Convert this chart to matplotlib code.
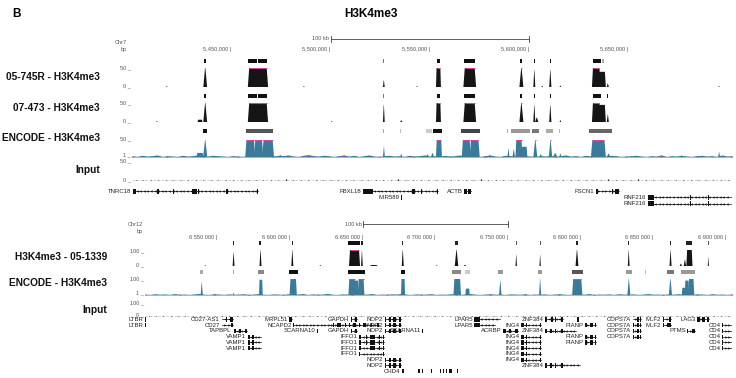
import numpy as np
import matplotlib.pyplot as plt
from matplotlib.patches import Rectangle

plt.rcParams['font.family'] = ['Liberation Sans', 'DejaVu Sans']

W, H = 736, 378

# ---------------- data: Chr7 panel ----------------
chr7_range = (5400000, 5702000)
chr7_ticks = [5450000, 5500000, 5550000, 5600000, 5650000]
chr7_tick_labels = ['5,450,000', '5,500,000', '5,550,000', '5,600,000', '5,650,000']
chr7_scalebar = (5500000, 5600000)

# peaks are (start, end, height); height above the track max = clipped
sig_745R = [(5435900, 5437800, 50), (5458300, 5468500, 60),
            (5526300, 5527200, 18), (5553000, 5555500, 60), (5566800, 5573200, 60),
            (5595000, 5597000, 60), (5602000, 5603000, 45), (5610000, 5611100, 45),
            (5615200, 5616000, 4), (5631500, 5635800, 60), (5634500, 5638500, 40),
            (5639000, 5640000, 10), (5417000, 5418000, 2), (5486000, 5487000, 2),
            (5543000, 5544000, 2), (5606000, 5607000, 3), (5695000, 5696000, 2)]
sig_473 = [(5433000, 5435500, 6), (5435900, 5437800, 50), (5458300, 5468500, 60),
           (5526300, 5527200, 45), (5535000, 5536000, 5),
           (5553000, 5555500, 60), (5566800, 5573200, 60), (5595000, 5597000, 60),
           (5602000, 5603000, 45), (5603000, 5604500, 12), (5610000, 5611100, 45),
           (5615200, 5616000, 5), (5631500, 5635800, 60), (5634500, 5638500, 45),
           (5639000, 5640000, 20), (5412000, 5413000, 2), (5500000, 5501000, 2)]
sig_enc7 = [(5432500, 5436000, 12), (5435800, 5437900, 55), (5457000, 5462000, 55),
            (5461500, 5466000, 55), (5465500, 5471500, 55), (5474000, 5475500, 6),
            (5526300, 5527300, 30), (5535000, 5536000, 10), (5548000, 5549500, 8),
            (5550500, 5552000, 12), (5553000, 5556000, 55), (5566000, 5570500, 55),
            (5570000, 5575000, 55), (5579500, 5580500, 6), (5589000, 5590000, 25),
            (5591500, 5592800, 22), (5593000, 5596500, 55), (5596000, 5599000, 30),
            (5602000, 5604000, 55), (5605000, 5606500, 8), (5609800, 5611500, 55),
            (5612000, 5614000, 12), (5615000, 5616200, 10), (5631000, 5638500, 55),
            (5639000, 5640800, 10), (5676000, 5677000, 5), (5695000, 5696000, 15)]
enc7_background = [4, 2, 5, 3, 4, 6, 2, 4, 3, 2, 5, 3, 4, 6, 2, 3, 5, 4, 3, 2,
                   4, 3, 2, 5, 6, 3, 2, 4, 3, 5, 4, 6, 3, 2, 5, 7, 4, 3, 5, 4,
                   2, 4, 6, 3, 5, 2, 4, 6, 3, 2, 4, 5, 3, 4, 2, 5, 3, 4, 6, 3,
                   4, 2, 5, 3, 4, 6, 3, 5, 4, 2, 4, 6, 3, 2, 5, 4, 3, 6, 4, 3,
                   2, 4, 3, 5, 2, 4, 6, 3, 4, 2, 5, 3, 4, 2, 3, 5, 4, 2, 3, 4,
                   5, 3, 2, 4, 3, 6, 2, 4, 3, 5, 3, 2, 4, 5, 3, 4, 2, 6, 3, 4]
input7 = [3, 2, 2, 3, 4, 2, 3, 2, 3, 3, 2, 4, 3, 2, 3, 2, 2, 3, 4, 3,
          5, 3, 2, 3, 3, 4, 2, 3, 2, 4, 3, 3, 2, 4, 3, 5, 3, 2, 3, 3,
          2, 4, 3, 3, 2, 3, 5, 3, 4, 3, 2, 3, 3, 4, 3, 2, 3, 4, 3, 3,
          2, 3, 4, 5, 3, 4, 3, 5, 3, 2, 4, 3, 3, 4, 3, 3, 2, 3, 3, 2]
calls_745R = [(5436300, 5437400, '#111'), (5458600, 5462700, '#111'), (5463300, 5467800, '#111'),
              (5526500, 5527000, '#777'), (5553300, 5555200, '#111'), (5567300, 5572500, '#111'),
              (5595400, 5596500, '#111'), (5602200, 5602900, '#111'), (5610200, 5610900, '#111'),
              (5631800, 5636200, '#111'), (5636400, 5637600, '#aaa')]
calls_473 = [(5436300, 5437400, '#111'), (5458600, 5462700, '#111'), (5463300, 5467800, '#111'),
             (5526500, 5527000, '#777'), (5553300, 5555200, '#111'), (5567300, 5572500, '#111'),
             (5595400, 5596500, '#111'), (5602200, 5602900, '#111'), (5610200, 5610900, '#111'),
             (5631800, 5636200, '#111'), (5639100, 5639800, '#111')]
calls_enc7 = [(5435800, 5437900, '#111'), (5457300, 5470800, '#555'), (5526500, 5527000, '#aaa'),
              (5535100, 5535600, '#bbb'), (5548000, 5551000, '#ccc'), (5551500, 5556000, '#111'),
              (5565500, 5575000, '#444'), (5588500, 5589300, '#aaa'), (5591000, 5600500, '#999'),
              (5601500, 5605000, '#777'), (5608500, 5612000, '#aaa'), (5614800, 5615400, '#bbb'),
              (5630000, 5641500, '#666')]
genes7 = [('TNRC18', 0, 5400500, 5463600, -1,
           [(5400500, 5402200), (5412800, 5413600), (5420500, 5421200), (5430000, 5432600),
            (5433200, 5433800), (5447500, 5448300), (5463000, 5463600)]),
          ('FBXL18', 0, 5516500, 5554000, -1,
           [(5516500, 5521500), (5541000, 5542500), (5545500, 5546200), (5553400, 5554000)]),
          ('MIR589', 1, 5535500, 5536000, -1, [(5535500, 5536000)]),
          ('ACTB', 0, 5567200, 5570700, -1, [(5567200, 5568600), (5569300, 5570700)]),
          ('FSCN1', 0, 5633300, 5645000, 1, [(5633300, 5634600), (5641500, 5642300), (5643200, 5645000)]),
          ('RNF216', 1, 5659600, 5702000, -1, [(5659600, 5662800), (5681000, 5681500), (5690000, 5690400)]),
          ('RNF216', 2, 5659600, 5702000, -1, [(5659600, 5662800), (5681000, 5681500), (5690000, 5690400)])]

# ---------------- data: Chr12 panel ----------------
chr12_range = (6500000, 6904000)
chr12_ticks = [6550000, 6600000, 6650000, 6700000, 6750000, 6800000, 6850000, 6900000]
chr12_tick_labels = ['6 550 000', '6 600 000', '6 650 000', '6 700 000',
                     '6 750 000', '6 800 000', '6 850 000', '6 900 000']
chr12_scalebar = (6650000, 6750000)

sig_1339 = [(6560300, 6561600, 85), (6578800, 6580200, 100), (6600700, 6602100, 100),
            (6640400, 6648000, 130), (6648700, 6649900, 95), (6676700, 6678100, 100),
            (6713200, 6715600, 100), (6755000, 6756000, 70), (6771500, 6772400, 70),
            (6796300, 6798300, 100), (6832300, 6833500, 100), (6861000, 6862400, 100),
            (6870800, 6872400, 40), (6872600, 6876800, 100), (6887300, 6888100, 55),
            (6541000, 6542000, 5), (6620000, 6621500, 5), (6655000, 6660000, 6),
            (6719500, 6721000, 8), (6868000, 6869500, 15), (6700000, 6701500, 4)]
sig_enc12 = [(6538300, 6539800, 80), (6560500, 6561500, 15), (6578500, 6581000, 95),
             (6599500, 6604500, 100), (6640000, 6645000, 110), (6644000, 6647000, 90),
             (6646500, 6651000, 110), (6676200, 6679000, 100), (6712300, 6717500, 100),
             (6720500, 6723500, 40), (6743700, 6745400, 90), (6771200, 6772700, 100),
             (6794000, 6801000, 110), (6832000, 6834000, 100), (6860500, 6862700, 100),
             (6869500, 6872000, 45), (6871500, 6874500, 90), (6874000, 6878000, 100)]
enc12_background = [6, 4, 8, 5, 7, 4, 9, 5, 6, 4, 7, 10, 5, 4, 8, 6, 4, 7, 5, 6,
                    8, 4, 6, 9, 5, 4, 7, 6, 4, 8, 5, 6, 9, 4, 7, 5, 6, 10, 5, 4,
                    7, 6, 4, 8, 5, 6, 9, 4, 6, 5, 7, 6, 10, 5, 4, 7, 5, 6, 8, 4,
                    6, 5, 8, 6, 4, 7, 9, 5, 4, 6, 8, 5, 6, 4, 7, 6, 5, 8, 4, 6,
                    5, 7, 4, 6, 8, 5, 4, 7, 6, 5, 9, 4, 6, 5, 7, 4, 8, 6, 5, 7,
                    4, 6, 9, 5, 6, 4, 7, 5, 8, 6, 4, 5, 7, 6, 4, 8, 5, 6, 4, 7]
input12 = [6, 4, 5, 6, 4, 5, 7, 4, 5, 6, 5, 4, 6, 5, 4, 6, 7, 5, 4, 6,
           5, 4, 6, 5, 7, 4, 5, 6, 4, 5, 6, 5, 4, 6, 5, 4, 7, 5, 6, 4,
           5, 6, 4, 5, 7, 5, 4, 6, 5, 4, 6, 5, 4, 5, 6, 4, 5, 7, 5, 4,
           6, 5, 4, 6, 5, 7, 4, 5, 6, 4, 5, 6, 5, 4, 6, 5, 4, 6, 5, 4]
calls_1339 = [(6560500, 6561300, '#222'), (6578800, 6580100, '#222'), (6600900, 6601900, '#222'),
              (6640000, 6648300, '#111'), (6648800, 6649800, '#222'), (6676900, 6677900, '#222'),
              (6713600, 6715200, '#222'), (6755100, 6755800, '#555'), (6771600, 6772300, '#555'),
              (6796400, 6798200, '#222'), (6832400, 6833400, '#222'), (6861100, 6862300, '#222'),
              (6872400, 6876600, '#222'), (6887400, 6888000, '#555')]
calls_enc12 = [(6538000, 6540000, '#aaa'), (6560700, 6561200, '#aaa'), (6577500, 6582000, '#888'),
               (6599300, 6605500, '#111'), (6639700, 6651400, '#111'), (6676000, 6679000, '#111'),
               (6711000, 6717800, '#888'), (6720000, 6724000, '#ccc'), (6743200, 6746600, '#999'),
               (6770600, 6773500, '#999'), (6793900, 6801400, '#555'), (6830900, 6835000, '#999'),
               (6844300, 6844800, '#bbb'), (6859000, 6864400, '#777'), (6869200, 6878800, '#999')]
genes12 = [('LTBR', 0, 6500000, 6500600, 1, [(6500000, 6500600)]),
           ('LTBR', 1, 6500000, 6500600, 1, [(6500000, 6500600)]),
           ('CD27-AS1', 0, 6552800, 6560300, -1, [(6552800, 6553200), (6556000, 6556400), (6558500, 6560300)]),
           ('CD27', 1, 6552800, 6560300, 1, [(6552800, 6553300), (6559000, 6560300)]),
           ('TAPBPL', 2, 6561000, 6569900, -1, [(6561000, 6562600), (6565000, 6566000), (6568500, 6569900)]),
           ('VAMP1', 3, 6570600, 6580100, -1, [(6570600, 6572600), (6573500, 6575000), (6579700, 6580100)]),
           ('VAMP1', 4, 6570600, 6580100, -1, [(6570600, 6572600), (6573500, 6575000), (6579700, 6580100)]),
           ('VAMP1', 5, 6570600, 6580100, -1, [(6570600, 6572600), (6573500, 6575000), (6579700, 6580100)]),
           ('MRPL51', 0, 6599300, 6601400, -1, [(6599300, 6601400)]),
           ('NCAPD2', 1, 6602100, 6661000, 1,
            [(6602100, 6602600), (6629300, 6630000), (6632000, 6635000), (6637500, 6638200),
             (6640500, 6641200), (6643000, 6645500), (6647500, 6648300), (6650200, 6652000),
             (6655500, 6656200), (6659500, 6661000)]),
           ('SCARNA10', 2, 6618200, 6618800, 1, [(6618200, 6618800)]),
           ('GAPDH', 0, 6641800, 6645900, 1, [(6641800, 6642500), (6643500, 6644000), (6644800, 6645900)]),
           ('GAPDH', 2, 6641800, 6645900, 1, [(6641800, 6642500), (6643500, 6644000), (6644800, 6645900)]),
           ('IFFO1', 3, 6647300, 6664400, -1,
            [(6647300, 6648500), (6652000, 6652600), (6655000, 6658000), (6661000, 6661600), (6664000, 6664400)]),
           ('IFFO1', 4, 6647300, 6664400, -1,
            [(6647300, 6648500), (6652000, 6652600), (6655000, 6658000), (6661000, 6661600), (6664000, 6664400)]),
           ('IFFO1', 5, 6647300, 6664400, -1,
            [(6647300, 6648500), (6655000, 6658000), (6661000, 6661600), (6664000, 6664400)]),
           ('IFFO1', 6, 6647300, 6664400, -1, [(6647300, 6648000), (6663800, 6664400)]),
           ('NOP2', 0, 6665100, 6676000, -1,
            [(6665100, 6666000), (6668000, 6669500), (6671000, 6672500), (6674500, 6676000)]),
           ('NOP2', 1, 6665100, 6676000, -1,
            [(6665100, 6666000), (6668000, 6669500), (6671000, 6672500), (6674500, 6676000)]),
           ('NOP2', 2, 6665100, 6676000, -1,
            [(6665100, 6666000), (6668000, 6669500), (6671000, 6672500), (6674500, 6676000)]),
           ('NOP2', 7, 6665100, 6676000, -1,
            [(6665100, 6666000), (6668000, 6669500), (6671000, 6672500), (6674500, 6676000)]),
           ('NOP2', 8, 6665100, 6676000, -1,
            [(6665100, 6666000), (6668000, 6669500), (6671000, 6672500), (6674500, 6676000)]),
           ('SCARNA11', 2, 6690800, 6691400, -1, [(6690800, 6691400)]),
           ('CHD4', 9, 6676700, 6678000, -1,
            [(6676700, 6678000), (6681500, 6682000), (6688000, 6689000), (6690500, 6691500),
             (6697000, 6697800), (6703000, 6704000), (6705000, 6706000), (6707000, 6708000),
             (6709000, 6711000), (6714800, 6715300)]),
           ('LPAR5', 0, 6726700, 6744600, -1, [(6726700, 6730800), (6744200, 6744600)]),
           ('LPAR5', 1, 6726700, 6741100, -1, [(6726700, 6730800)]),
           ('ACRBP', 2, 6746600, 6756900, -1, [(6746600, 6748500), (6750500, 6752000), (6754500, 6756900)]),
           ('ZNF384', 0, 6775400, 6787700, -1,
            [(6775400, 6777000), (6779500, 6780500), (6782500, 6783000), (6786500, 6787700)]),
           ('ING4', 1, 6758900, 6772600, -1, [(6758900, 6760800), (6762000, 6763000), (6772200, 6772600)]),
           ('ZNF384', 2, 6775400, 6796600, -1,
            [(6775400, 6777000), (6779000, 6780000), (6782500, 6783000), (6786500, 6787700)]),
           ('ING4', 3, 6758900, 6772600, -1, [(6758900, 6760800), (6762000, 6763000), (6772200, 6772600)]),
           ('ING4', 4, 6758900, 6772600, -1, [(6758900, 6760800), (6762000, 6763000), (6772200, 6772600)]),
           ('ING4', 5, 6758900, 6772600, -1, [(6758900, 6760800), (6762000, 6763000), (6772200, 6772600)]),
           ('ING4', 6, 6758900, 6772600, -1, [(6758900, 6760800), (6762000, 6763000), (6772200, 6772600)]),
           ('ING4', 7, 6758900, 6772600, -1, [(6758900, 6760800), (6762000, 6763000), (6772200, 6772600)]),
           ('ZNF384', 8, 6775400, 6799300, -1,
            [(6775400, 6777000), (6779000, 6780000), (6782500, 6783000), (6786500, 6787700)]),
           ('', 0, 6797500, 6798600, 1, [(6797500, 6797800), (6798300, 6798600)]),
           ('PIANP', 1, 6802800, 6810300, 1, [(6802800, 6804500), (6806000, 6808000), (6809500, 6810300)]),
           ('PIANP', 3, 6802800, 6810300, 1, [(6802800, 6804500), (6806000, 6808000), (6809500, 6810300)]),
           ('PIANP', 4, 6802800, 6810300, 1, [(6802800, 6804500), (6806000, 6808000), (6809500, 6810300)]),
           ('COPS7A', 0, 6835600, 6841100, 1, [(6835600, 6836200), (6838500, 6840000), (6840600, 6841100)]),
           ('COPS7A', 1, 6835600, 6841100, 1, [(6835600, 6836500), (6838500, 6840000), (6840600, 6841100)]),
           ('COPS7A', 2, 6835600, 6841100, 1, [(6835600, 6836500), (6838500, 6840000), (6840600, 6841100)]),
           ('COPS7A', 3, 6835600, 6841100, 1, [(6835600, 6836500), (6838500, 6840000), (6840600, 6841100)]),
           ('MLF2', 0, 6856200, 6861700, -1, [(6856200, 6857000), (6860500, 6861700)]),
           ('MLF2', 1, 6856200, 6861700, -1, [(6856200, 6857500), (6859500, 6861700)]),
           ('LAG3', 0, 6880200, 6888400, 1, [(6880200, 6882000), (6883500, 6885500), (6887000, 6888400)]),
           ('PTMS', 2, 6873300, 6878800, 1, [(6873300, 6874000), (6876500, 6878800)]),
           ('CD4', 1, 6897300, 6904000, 1, [(6897300, 6897700)]),
           ('CD4', 2, 6897300, 6904000, 1, [(6897300, 6897700)]),
           ('CD4', 3, 6897300, 6904000, 1, [(6897300, 6897700)]),
           ('CD4', 4, 6897300, 6904000, 1, [(6897300, 6897700)]),
           ('CD4', 5, 6897300, 6904000, 1, [(6897300, 6897700)])]

SIG = '#151515'
ENC = '#3b7a99'
CAP = '#d4489e'
GRAY = '#555555'

fig = plt.figure(figsize=(7.36, 3.78), dpi=100)


def box(x0, y0, x1, y1, xr, yr=(0, 1)):
    # axes placed by pixel box (top-left origin)
    ax = fig.add_axes([x0 / W, 1 - y1 / H, (x1 - x0) / W, (y1 - y0) / H])
    ax.set_xlim(*xr)
    ax.set_ylim(*yr)
    ax.axis('off')
    return ax


def ftext(x, y, s, **kw):
    fig.text(x / W, 1 - y / H, s, **kw)


def ramp(s, e):
    w = e - s
    # narrow peaks are spikes, broad ones are steep-sided blocks
    return 0.45 * w if w < 2500 else min(0.12 * w, 700)


def draw_signal(ax, peaks, color, ymax):
    for s, e, h in peaks:
        r = ramp(s, e)
        top = min(h, ymax)
        ax.fill([s, s + r, e - r, e], [0, top, top, 0], color=color, lw=0)
    for s, e, h in peaks:
        if h > ymax:
            r = ramp(s, e)
            ax.plot([s + r, e - r], [ymax * 0.99, ymax * 0.99], color=CAP, lw=0.8,
                    solid_capstyle='butt')


def draw_background(ax, values, xr, color):
    edges = np.linspace(xr[0], xr[1], len(values))
    ax.fill_between(edges, values, color=color, lw=0)
    ax.plot(edges[::7], np.array(values[::7]) * 0.3, ls='none', marker='.', ms=1.2,
            color=CAP, alpha=0.6)


def draw_noise(ax, values, xr):
    edges = np.linspace(xr[0], xr[1], len(values) + 1)
    mids = (edges[:-1] + edges[1:]) / 2
    ax.vlines(mids, 0, values, color='#222', lw=0.9)
    ax.axhline(0, color='#222', lw=1.0, ls=(0, (2, 1)))


def draw_calls(ax, calls):
    for s, e, c in calls:
        ax.add_patch(Rectangle((s, 0), e - s, 1, color=c, lw=0))


def draw_gene(ax, name, row, s, e, strand, exons, xr):
    span = xr[1] - xr[0]
    if e - s > 0.004 * span:
        ax.plot([s, e], [row, row], color='#111', lw=0.5)
        step = span * 0.006
        xs = np.arange(s + step, e - step * 0.5, step)
        ax.plot(xs, [row] * len(xs), ls='none', marker='<' if strand < 0 else '>',
                ms=1.7, mew=0, color='#111')
    for a, b in exons:
        ax.add_patch(Rectangle((a, row - 0.38), b - a, 0.76, color='#111', lw=0))
    if name:
        ax.text(s - span * 0.003, row, name, ha='right', va='center', fontsize=4.3, color='#222')


def ruler(y_scale, y_ticks, x0, x1, xr, ticks, labels, bar):
    ax = box(x0, y_ticks - 5, x1, y_ticks + 5, xr)
    for t, lab in zip(ticks, labels):
        ax.text(t, 0.5, lab + ' |', ha='right', va='center', fontsize=4.1, color=GRAY)
    ax2 = box(x0, y_scale - 4, x1, y_scale + 4, xr)
    ax2.plot(bar, [0.5, 0.5], color='#444', lw=0.6)
    for b in bar:
        ax2.plot([b, b], [0.15, 0.85], color='#444', lw=0.6)
    ax2.text(bar[0] - (xr[1] - xr[0]) * 0.002, 0.5, '100 kb', ha='right', va='center',
             fontsize=4.1, color=GRAY)


def ylabel(x, y, s):
    ftext(x, y, s + ' _', ha='right', va='center', fontsize=4.1, color=GRAY)


def track_label(y, s, x=100):
    ftext(x, y, s, ha='right', va='center', fontsize=7.3, fontweight='bold', color='#111')


# ---------------- titles ----------------
ftext(12, 14, 'B', ha='left', va='center', fontsize=8.5, fontweight='bold')
ftext(371, 14, 'H3K4me3', ha='center', va='center', fontsize=8.5, fontweight='bold')

# ---------------- Chr7 panel ----------------
L7, R7 = 132, 732
ftext(127, 43, 'Chr7', ha='right', va='center', fontsize=4.1, color=GRAY)
ftext(127, 49, 'bp', ha='right', va='center', fontsize=4.1, color=GRAY)
ruler(39, 49, L7, R7, chr7_range, chr7_ticks, chr7_tick_labels, chr7_scalebar)

ax = box(L7, 59, R7, 63, chr7_range); draw_calls(ax, calls_745R)
ax = box(L7, 68, R7, 87, chr7_range, (0, 50))
draw_signal(ax, sig_745R, SIG, 50); ax.axhline(0, color=SIG, lw=0.7)
track_label(77, '05-745R - H3K4me3'); ylabel(131, 68, '50'); ylabel(131, 86, '0')

ax = box(L7, 94, R7, 98, chr7_range); draw_calls(ax, calls_473)
ax = box(L7, 103, R7, 122, chr7_range, (0, 50))
draw_signal(ax, sig_473, SIG, 50); ax.axhline(0, color=SIG, lw=0.7)
track_label(108, '07-473 - H3K4me3'); ylabel(131, 103, '50'); ylabel(131, 121, '0')

ax = box(L7, 129, R7, 133, chr7_range); draw_calls(ax, calls_enc7)
ax = box(L7, 140, R7, 157, chr7_range, (0, 50))
draw_background(ax, enc7_background, chr7_range, ENC)
draw_signal(ax, sig_enc7, ENC, 50)
track_label(138, 'ENCODE - H3K4me3'); ylabel(131, 139, '50'); ylabel(131, 155, '1')

ax = box(L7, 163, R7, 181, chr7_range, (0, 50))
draw_noise(ax, input7, chr7_range)
track_label(170, 'Input'); ylabel(131, 161, '50'); ylabel(131, 180, '0')

ax = box(L7, 188.5, R7, 206.5, chr7_range, (2.5, -0.5))
for g in genes7:
    draw_gene(ax, *g, chr7_range)

# ---------------- Chr12 panel ----------------
L12, R12 = 145, 732
ftext(143, 225, 'Chr12', ha='right', va='center', fontsize=4.1, color=GRAY)
ftext(143, 231, 'bp', ha='right', va='center', fontsize=4.1, color=GRAY)
ruler(224, 237, L12, R12, chr12_range, chr12_ticks, chr12_tick_labels, chr12_scalebar)

ax = box(L12, 241, R12, 245, chr12_range); draw_calls(ax, calls_1339)
ax = box(L12, 250, R12, 266, chr12_range, (0, 100))
draw_signal(ax, sig_1339, SIG, 100); ax.axhline(0, color=SIG, lw=0.7)
track_label(257, 'H3K4me3 - 05-1339', 107); ylabel(144, 251, '100'); ylabel(144, 265, '0')

ax = box(L12, 270, R12, 274, chr12_range); draw_calls(ax, calls_enc12)
ax = box(L12, 279, R12, 295, chr12_range, (0, 100))
draw_background(ax, enc12_background, chr12_range, ENC)
draw_signal(ax, sig_enc12, ENC, 100)
track_label(283, 'ENCODE - H3K4me3', 107); ylabel(144, 279, '100'); ylabel(144, 293, '1')

ax = box(L12, 303, R12, 317, chr12_range, (0, 100))
draw_noise(ax, input12, chr12_range)
track_label(310, 'Input', 107); ylabel(144, 303, '100'); ylabel(144, 315, '0')

ax = box(L12, 316.6, R12, 374.1, chr12_range, (9.5, -0.5))
for g in genes12:
    draw_gene(ax, *g, chr12_range)

fig.savefig('out.png', dpi=100, facecolor='white')
